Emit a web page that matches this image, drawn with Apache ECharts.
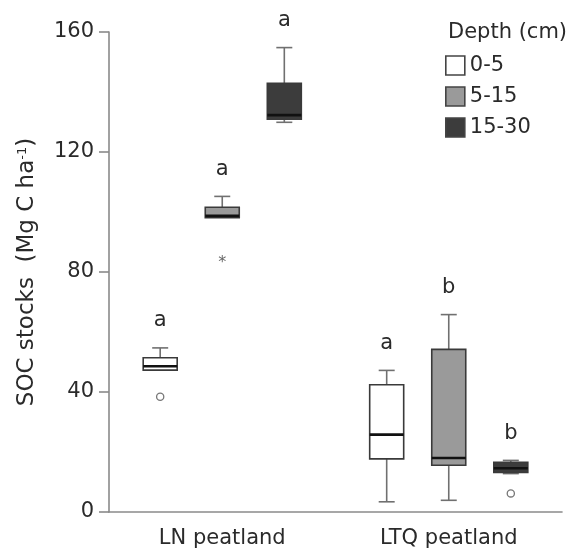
<!DOCTYPE html>
<html>
<head>
<meta charset="utf-8">
<script src="https://cdn.jsdelivr.net/npm/echarts@6/dist/echarts.min.js"></script>
<style>
html,body{margin:0;padding:0;background:#fff;}
#chart{width:569px;height:553px;}
</style>
</head>
<body>
<div id="chart"></div>
<script>
// ---------- data ----------
const categories = ['LN peatland', 'LTQ peatland'];
const depthNames = ['0-5', '5-15', '15-30'];
const yTicks = [0, 40, 80, 120, 160];
// per category: [low whisker, Q1, median, Q3, high whisker]
const box0to5   = [[47.3, 47.3, 48.6, 51.4, 54.7], [3.4, 17.7, 25.8, 42.4, 47.2]];
const box5to15  = [[98.1, 98.1, 98.7, 101.6, 105.2], [3.9, 15.6, 18.0, 54.2, 65.8]];
const box15to30 = [[129.9, 130.9, 132.3, 142.9, 154.8], [12.8, 13.2, 14.6, 16.6, 17.2]];
// outliers: [category index, value]
const out0to5   = [[0, 38.4]];
const out5to15  = [[0, 84.2]];
const out15to30 = [[1, 6.2]];
// significance letters per category
const letters0to5   = ['a', 'a'];
const letters5to15  = ['a', 'b'];
const letters15to30 = ['a', 'b'];

// ---------- styles ----------
const FONT = 'DejaVu Sans, Liberation Sans, sans-serif';
const TXT = '#2a2a2a';
const fills = ['#ffffff', '#9a9a9a', '#3c3c3c'];
const offsetFrac = [-0.274, 0, 0.274];
const BOX_W = 34, CAP_W = 16;
const outlierShapes = ['circle', 'star', 'circle'];

const boxSets = [box0to5, box5to15, box15to30];
const outSets = [out0to5, out5to15, out15to30];
const letterSets = [letters0to5, letters5to15, letters15to30];

function boxRender(d) {
  return function (params, api) {
    const cat = api.value(0);
    const band = api.size([1, 0])[0];
    const x = api.coord([cat, 0])[0] + offsetFrac[d] * band;
    const yLow = api.coord([cat, api.value(1)])[1];
    const yQ1 = api.coord([cat, api.value(2)])[1];
    const yMed = api.coord([cat, api.value(3)])[1];
    const yQ3 = api.coord([cat, api.value(4)])[1];
    const yHigh = api.coord([cat, api.value(5)])[1];
    const wStyle = {stroke: '#707070', lineWidth: 1.6};
    const children = [];
    if (yHigh < yQ3 - 0.5) {
      children.push({type: 'line', shape: {x1: x, y1: yHigh, x2: x, y2: yQ3}, style: wStyle});
      children.push({type: 'line', shape: {x1: x - CAP_W / 2, y1: yHigh, x2: x + CAP_W / 2, y2: yHigh}, style: wStyle});
    }
    if (yLow > yQ1 + 0.5) {
      children.push({type: 'line', shape: {x1: x, y1: yQ1, x2: x, y2: yLow}, style: wStyle});
      children.push({type: 'line', shape: {x1: x - CAP_W / 2, y1: yLow, x2: x + CAP_W / 2, y2: yLow}, style: wStyle});
    }
    children.push({type: 'rect', shape: {x: x - BOX_W / 2, y: yQ3, width: BOX_W, height: Math.max(yQ1 - yQ3, 1)},
      style: {fill: fills[d], stroke: '#3a3a3a', lineWidth: 1.6}});
    children.push({type: 'line', shape: {x1: x - BOX_W / 2, y1: yMed, x2: x + BOX_W / 2, y2: yMed},
      style: {stroke: '#111', lineWidth: 2.6}});
    children.push({type: 'text', style: {text: letterSets[d][params.dataIndex], x: x, y: yHigh - 27,
      align: 'center', verticalAlign: 'middle', fontSize: 21, fontFamily: FONT, fill: TXT}});
    return {type: 'group', children: children};
  };
}

function outRender(d) {
  return function (params, api) {
    const cat = api.value(0);
    const band = api.size([1, 0])[0];
    const p = api.coord([cat, api.value(1)]);
    const x = p[0] + offsetFrac[d] * band;
    if (outlierShapes[d] === 'star') {
      return {type: 'text', style: {text: '*', x: x, y: p[1] + 3, align: 'center', verticalAlign: 'middle',
        fontSize: 16, fontFamily: FONT, fill: '#666'}};
    }
    return {type: 'circle', shape: {cx: x, cy: p[1], r: 3.6}, style: {fill: '#fff', stroke: '#777', lineWidth: 1.3}};
  };
}

const series = [];
depthNames.forEach(function (name, d) {
  series.push({
    name: name, type: 'custom', renderItem: boxRender(d),
    itemStyle: {color: fills[d]},
    encode: {x: 0, y: [1, 2, 3, 4, 5]},
    data: boxSets[d].map(function (b, i) { return [i].concat(b); })
  });
  series.push({
    name: 'outliers ' + name, type: 'custom', renderItem: outRender(d),
    encode: {x: 0, y: 1},
    data: outSets[d]
  });
});

const chart = echarts.init(document.getElementById('chart'), null, {renderer: 'canvas'});
chart.setOption({
  animation: false,
  backgroundColor: '#fff',
  textStyle: {fontFamily: FONT},
  title: {text: 'Depth (cm)', left: 443, top: 17,
    textStyle: {fontSize: 21, fontWeight: 'normal', color: TXT, fontFamily: FONT}},
  legend: {
    left: 440, top: 50, orient: 'vertical', itemWidth: 19, itemHeight: 19, itemGap: 10,
    icon: 'rect', textStyle: {fontSize: 21, color: TXT, fontFamily: FONT},
    data: depthNames.map(function (n, d) {
      return {name: n, itemStyle: {color: fills[d], borderColor: '#444', borderWidth: 1.6}};
    })
  },
  grid: {left: 109, right: 7, top: 32, bottom: 41, containLabel: false},
  xAxis: {
    type: 'category', data: categories, boundaryGap: true,
    axisLine: {lineStyle: {color: '#8a8a8a', width: 1.6}},
    axisTick: {show: false},
    axisLabel: {fontSize: 21, color: TXT, margin: 16, fontFamily: FONT}
  },
  yAxis: {
    type: 'value', min: yTicks[0], max: yTicks[yTicks.length - 1], interval: 40,
    name: 'SOC stocks  (Mg C ha{sup|-1})',
    nameLocation: 'middle', nameGap: 70, nameRotate: 90,
    nameTextStyle: {fontSize: 23, color: TXT, fontFamily: FONT,
      rich: {sup: {fontSize: 13, verticalAlign: 'top', color: TXT, fontFamily: FONT, padding: [0, 0, 9, 0]}}},
    axisLine: {show: true, lineStyle: {color: '#8a8a8a', width: 1.6}},
    axisTick: {show: true, length: 10, lineStyle: {color: '#8a8a8a', width: 1.6}},
    splitLine: {show: false},
    axisLabel: {fontSize: 21, color: TXT, margin: 15, fontFamily: FONT}
  },
  series: series
});
</script>
</body>
</html>
